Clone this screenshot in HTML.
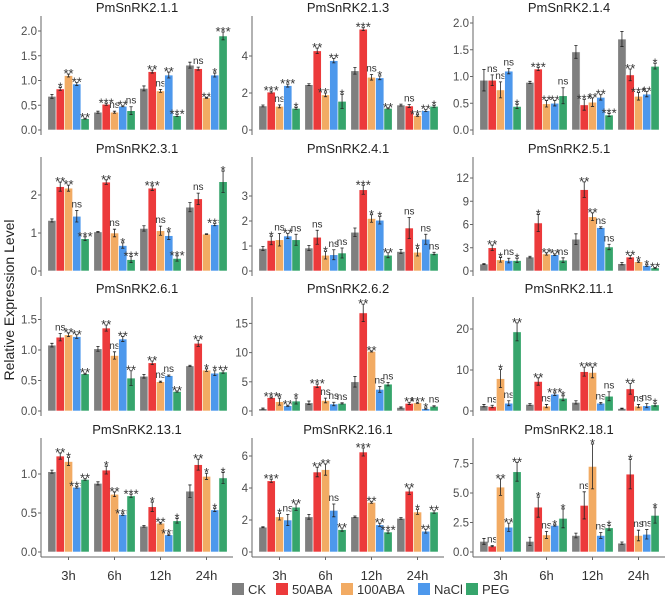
<!DOCTYPE html>
<html><head><meta charset="utf-8"><style>
html,body{margin:0;padding:0;background:#fff;}
svg{display:block;font-family:"Liberation Sans",Arial,sans-serif;}
</style></head><body>
<svg id="chart" width="669" height="600" viewBox="0 0 669 600">
<text x="14" y="300" transform="rotate(-90 14 300)" text-anchor="middle" font-size="14" fill="#222">Relative Expression Level</text>
</svg>
<script>
const titles = ["PmSnRK2.1.1","PmSnRK2.1.3","PmSnRK2.1.4","PmSnRK2.3.1","PmSnRK2.4.1","PmSnRK2.5.1","PmSnRK2.6.1","PmSnRK2.6.2","PmSnRK2.11.1","PmSnRK2.13.1","PmSnRK2.16.1","PmSnRK2.18.1"];
const timepoints = ["3h","6h","12h","24h"];
const treatments = ["CK","50ABA","100ABA","NaCl","PEG"];
const tickLabels = [
 ["0.0","0.5","1.0","1.5","2.0"],["0","2","4"],["0.0","0.5","1.0","1.5","2.0"],
 ["0","1","2"],["0","1","2","3"],["0","3","6","9","12"],
 ["0.0","0.5","1.0","1.5"],["0","5","10","15"],["0","10","20"],
 ["0.0","0.5","1.0"],["0","2","4","6"],["0.0","2.5","5.0","7.5"]];
const means = [
 [[0.68,0.83,1.10,0.93,0.23],[0.36,0.52,0.36,0.48,0.39],[0.84,1.18,0.79,1.11,0.29],[1.31,1.24,0.65,1.11,1.90]],
 [[1.30,2.05,1.28,2.40,1.17],[2.45,4.28,1.90,3.75,1.55],[3.20,5.45,2.85,2.82,1.17],[1.35,1.30,0.78,1.05,1.28]],
 [[0.93,0.93,0.75,1.10,0.44],[0.89,1.14,0.49,0.50,0.64],[1.46,0.47,0.52,0.61,0.28],[1.70,1.03,0.63,0.67,1.19]],
 [[1.33,2.22,2.18,1.44,0.85],[1.03,2.34,1.00,0.67,0.30],[1.12,2.18,1.06,0.93,0.33],[1.68,1.90,0.97,1.22,2.35]],
 [[0.90,1.22,1.25,1.40,1.25],[0.92,1.35,0.63,0.65,0.72],[1.55,3.25,2.10,2.03,0.63],[0.78,1.72,0.75,1.27,0.70]],
 [[0.90,3.0,1.45,1.35,1.35],[1.8,6.2,2.2,2.1,1.4],[4.1,10.5,7.0,5.6,3.1],[0.95,1.8,1.2,0.7,0.4]],
 [[1.08,1.21,1.25,1.22,0.61],[1.02,1.36,0.91,1.18,0.54],[0.57,0.79,0.48,0.58,0.32],[0.74,1.11,0.67,0.62,0.64]],
 [[0.4,2.3,1.6,0.9,1.7],[1.4,4.3,1.8,1.2,1.3],[5.0,16.8,10.2,3.7,4.6],[0.6,1.3,1.4,0.4,0.8]],
 [[1.3,1.1,7.9,1.9,19.3],[1.6,7.2,1.2,4.1,3.1],[2.1,9.6,9.4,1.9,3.6],[0.6,5.4,1.2,1.3,1.5]],
 [[1.03,1.23,1.16,0.83,0.93],[0.88,1.05,0.74,0.48,0.72],[0.33,0.58,0.37,0.22,0.40],[0.78,1.12,0.97,0.54,0.95]],
 [[1.55,4.45,2.2,2.0,2.8],[2.2,5.0,5.15,2.6,1.4],[2.2,6.25,3.1,1.7,1.25],[2.1,3.8,2.5,1.3,2.5]],
 [[0.9,0.5,5.5,2.1,6.8],[0.9,3.8,1.45,2.25,2.85],[1.4,3.95,7.25,1.4,2.05],[0.75,6.6,1.4,1.5,3.1]]];
const errors = [
 [[0.04,0.03,0.03,0.03,0.01],[0.02,0.02,0.02,0.01,0.08],[0.05,0.03,0.03,0.06,0.02],[0.06,0.03,0.01,0.04,0.08]],
 [[0.05,0.05,0.08,0.08,0.05],[0.05,0.15,0.1,0.12,0.38],[0.18,0.08,0.15,0.1,0.03],[0.05,0.08,0.04,0.05,0.05]],
 [[0.2,0.1,0.15,0.05,0.04],[0.02,0.03,0.06,0.05,0.15],[0.12,0.1,0.08,0.05,0.03],[0.14,0.11,0.07,0.05,0.05]],
 [[0.04,0.12,0.08,0.15,0.05],[0.01,0.06,0.1,0.07,0.08],[0.07,0.06,0.12,0.1,0.07],[0.12,0.15,0.01,0.03,0.28]],
 [[0.08,0.17,0.25,0.1,0.22],[0.1,0.28,0.15,0.2,0.2],[0.17,0.18,0.15,0.15,0.1],[0.08,0.42,0.15,0.2,0.05]],
 [[0.05,0.35,0.3,0.3,0.25],[0.1,1.1,0.15,0.1,0.3],[0.7,1.0,0.5,0.1,0.35],[0.15,0.2,0.1,0.1,0.05]],
 [[0.03,0.06,0.03,0.03,0.01],[0.04,0.05,0.06,0.04,0.12],[0.03,0.03,0.01,0.01,0.01],[0.01,0.05,0.02,0.04,0.02]],
 [[0.1,0.1,0.6,0.1,0.5],[0.3,0.3,0.4,0.3,0.1],[0.9,1.5,0.1,0.5,0.3],[0.1,0.2,0.1,0.1,0.1]],
 [[0.3,0.3,2.2,0.6,2.2],[0.2,0.9,0.4,0.3,0.6],[0.4,1.1,1.3,0.2,1.1],[0.1,1.3,0.4,0.5,0.3]],
 [[0.02,0.04,0.05,0.01,0.01],[0.02,0.05,0.03,0.01,0.02],[0.01,0.06,0.01,0.01,0.03],[0.08,0.07,0.04,0.02,0.07]],
 [[0.03,0.1,0.2,0.35,0.2],[0.15,0.3,0.35,0.4,0.1],[0.05,0.25,0.05,0.1,0.08],[0.05,0.2,0.15,0.12,0.08]],
 [[0.25,0.05,0.7,0.35,0.8],[0.35,0.85,0.3,0.05,0.8],[0.2,1.15,1.9,0.25,0.2],[0.1,1.25,0.45,0.4,0.65]]];
const sigLabels = [
 [["","*","**","**","**"],["","***","ns","**","ns"],["","**","ns","**","***"],["","ns","**","*","***"]],
 [["","***","ns","***","*"],["","**","***","**","*"],["","***","ns","*","**"],["","ns","***","**","*"]],
 [["","ns","ns","ns","*"],["","***","**","**","ns"],["","***","**","**","***"],["","**","***","**","*"]],
 [["","**","**","ns","***"],["","**","ns","*","***"],["","***","ns","*","***"],["","ns","","***","*"]],
 [["","*","ns","**","ns"],["","ns","*","ns","ns"],["","***","*","*","**"],["","ns","*","ns","ns"]],
 [["","**","*","ns","*"],["","*","**","**","ns"],["","**","**","ns","ns"],["","**","*","*","**"]],
 [["","ns","**","**","**"],["","**","ns","**","**"],["","**","ns","ns","**"],["","**","*","*","**"]],
 [["","***","*","**","*"],["","***","ns","ns","ns"],["","**","**","ns","ns"],["","**","***","*","ns"]],
 [["","ns","*","ns","**"],["","**","ns","***","*"],["","**","**","ns","ns"],["","**","ns","ns","*"]],
 [["","**","*","***","**"],["","*","**","***","***"],["","*","**","***","*"],["","**","*","*","*"]],
 [["","***","*","ns","**"],["","**","**","ns","**"],["","***","**","**","***"],["","**","*","**","**"]],
 [["","ns","**","**","**"],["","*","ns","*","*"],["","ns","*","ns","*"],["","*","ns","ns","*"]]];

// layout (not data)
const colors = ["#7f7f7f","#ec3a3b","#f2ab63","#4d98ec","#36a56c"];
const colX = [41,252,473];
const rowZero = [130,271,411,552];
const pxPerUnit = [49.5,18.5,53.5,38,25,7.75,61,5.84,4.1,78,16,11.8];
const groupStep = 46, barW = 8.28, axisH = 114;

const svg = document.getElementById('chart');
const NS = 'http://www.w3.org/2000/svg';
function mk(tag, attrs, parent){
  const el = document.createElementNS(NS, tag);
  for (const k in attrs) el.setAttribute(k, attrs[k]);
  (parent||svg).appendChild(el);
  return el;
}

for (let p = 0; p < titles.length; p++) {
  const col = p % 3, row = Math.floor(p / 3);
  const x0 = colX[col], z = rowZero[row], k = pxPerUnit[p];
  const yS = v => z - v * k;
  const xS = (g, b) => x0 + 27.5 + g * groupStep + (b - 2) * barW;
  const panel = mk('g', {});
  
  

  const t = mk('text', {x: x0 + 96, y: z - axisH - 4, 'text-anchor': 'middle', 'font-size': 13, fill: '#222'}, panel);
  t.textContent = titles[p];
  
  

  const ya = mk('line', {x1: x0, y1: z - axisH, x2: x0, y2: z + 5, stroke: '#666', 'stroke-width': 1}, panel);
  
  

  tickLabels[p].forEach(lbl => {
    const y = yS(parseFloat(lbl));
    mk('line', {x1: x0 - 3, y1: y, x2: x0, y2: y, stroke: '#666', 'stroke-width': 1}, panel);
    const tl = mk('text', {x: x0 - 4, y: y + 4, 'text-anchor': 'end', 'font-size': 11.5, fill: '#4d4d4d'}, panel);
    tl.textContent = lbl;
    
    
  });

  if (row === 3) {
    const xa = mk('line', {x1: x0, y1: z + 5, x2: x0 + 192, y2: z + 5, stroke: '#666', 'stroke-width': 1}, panel);
    
    
    timepoints.forEach((tp, g) => {
      const cx = xS(g, 2);
      mk('line', {x1: cx, y1: z + 5, x2: cx, y2: z + 8, stroke: '#666'}, panel);
      const xl = mk('text', {x: cx, y: z + 28, 'text-anchor': 'middle', 'font-size': 13, fill: '#333'}, panel);
      xl.textContent = tp;
      
      
    });
  }

  for (let g = 0; g < 4; g++) {
    for (let b = 0; b < 5; b++) {
      const v = means[p][g][b], e = errors[p][g][b];
      const bx = xS(g, b) - barW / 2;
      const r = mk('rect', {x: bx, y: yS(v), width: barW, height: v * k, fill: colors[b], stroke: '#fff', 'stroke-width': 0.6}, panel);
      
      
      const cx = xS(g, b);
      const eb = mk('path', {d: `M${cx-1.6},${yS(v+e)}H${cx+1.6}M${cx},${yS(v+e)}V${yS(Math.max(0,v-e))}M${cx-1.6},${yS(Math.max(0,v-e))}H${cx+1.6}`, stroke: '#222', 'stroke-width': 0.8, fill: 'none'}, panel);
      
      
      const s = sigLabels[p][g][b];
      if (s) {
        const isNs = s === 'ns';
        const lt = mk('text', {x: cx, y: yS(v + e) - (isNs ? 3 : -4), 'text-anchor': 'middle', 'font-size': isNs ? 10 : 13, fill: '#333'}, panel);
        lt.textContent = s;
        
        
      }
    }
  }
}

// legend
const legX = [232, 276, 341, 418, 466];
const leg = mk('g', {});


treatments.forEach((tr, i) => {
  const sw = mk('rect', {x: legX[i], y: 583, width: 12, height: 12, fill: colors[i]}, leg);
  
  
  const lt = mk('text', {x: legX[i] + 16, y: 594, 'font-size': 13, fill: '#333'}, leg);
  lt.textContent = tr;
  
  
});
</script>
</body></html>
